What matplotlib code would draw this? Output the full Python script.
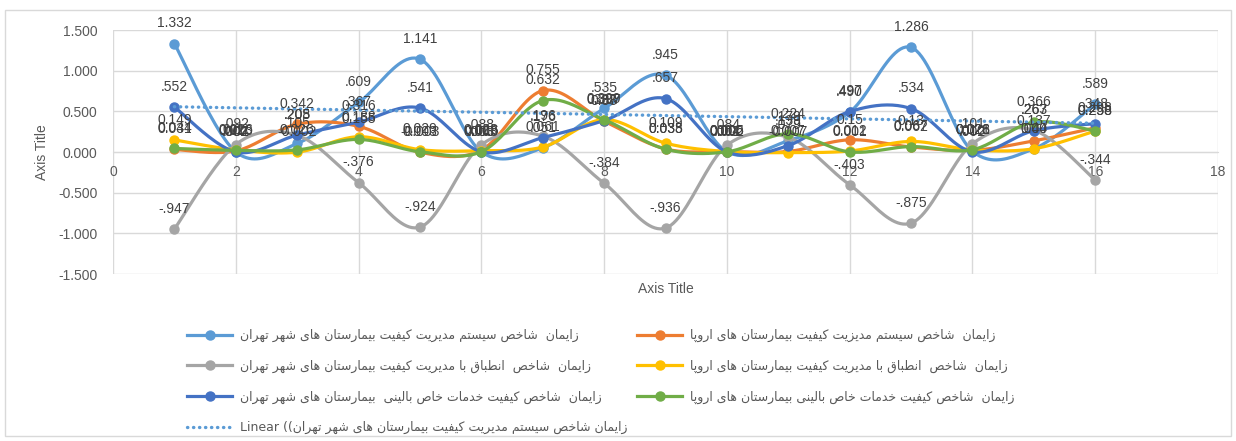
import numpy as np
import matplotlib
matplotlib.use('Agg')
import matplotlib.pyplot as plt
from matplotlib.lines import Line2D
from matplotlib.patches import Rectangle
from matplotlib.ticker import FormatStrFormatter

# Data
x_vals = list(range(1, 17))

tehran_qms = [1.332, 0.002, 0.105, 0.609, 1.141, 0.003, 0.051, 0.535,
              0.945, 0.004, 0.139, 0.490, 1.286, 0.010, 0.040, 0.589]
europe_qms = [0.031, 0.013, 0.342, 0.316, -0.003, 0.023, 0.755, 0.380,
              0.038, 0.006, 0.007, 0.150, 0.062, 0.021, 0.137, 0.298]
tehran_comp = [-0.947, 0.092, 0.205, -0.376, -0.924, 0.088, 0.196, -0.384,
               -0.936, 0.084, 0.179, -0.403, -0.875, 0.101, 0.267, -0.344]
europe_comp = [0.149, 0.026, -0.002, 0.188, 0.029, 0.016, 0.061, 0.399,
               0.109, 0.005, -0.007, 0.012, 0.130, 0.026, 0.040, 0.258]
tehran_clin = [0.552, 0.001, 0.208, 0.367, 0.541, 0.003, 0.176, 0.387,
               0.657, 0.001, 0.079, 0.497, 0.534, 0.002, 0.263, 0.348]
europe_clin = [0.044, 0.020, 0.026, 0.155, 0.003, 0.003, 0.632, 0.397,
               0.035, 0.002, 0.224, 0.001, 0.067, 0.028, 0.366, 0.258]

series_names = [
    "زایمان  شاخص سیستم مدیریت کیفیت بیمارستان های شهر تهران",
    "زایمان  شاخص سیستم مدیزیت کیفیت بیمارستان های اروپا",
    "زایمان  شاخص  انطباق با مدیریت کیفیت بیمارستان های شهر تهران",
    "زایمان  شاخص  انطباق با مدیریت کیفیت بیمارستان های اروپا",
    "زایمان  شاخص کیفیت خدمات خاص بالینی  بیمارستان های شهر تهران",
    "زایمان  شاخص کیفیت خدمات خاص بالینی بیمارستان های اروپا",
]
trend_name = "زایمان شاخص سیستم مدیریت کیفیت بیمارستان های شهر تهران"

colors = ['#5B9BD5', '#ED7D31', '#A5A5A5', '#FFC000', '#4472C4', '#70AD47']
tehran_style = [True, False, True, False, True, False]

# Arabic presentation forms: isolated, final, initial, medial
FORMS = {
    'ا': ('\uFE8D', '\uFE8E', None, None),
    'ب': ('\uFE8F', '\uFE90', '\uFE91', '\uFE92'),
    'ت': ('\uFE95', '\uFE96', '\uFE97', '\uFE98'),
    'خ': ('\uFEA5', '\uFEA6', '\uFEA7', '\uFEA8'),
    'د': ('\uFEA9', '\uFEAA', None, None),
    'ر': ('\uFEAD', '\uFEAE', None, None),
    'ز': ('\uFEAF', '\uFEB0', None, None),
    'س': ('\uFEB1', '\uFEB2', '\uFEB3', '\uFEB4'),
    'ش': ('\uFEB5', '\uFEB6', '\uFEB7', '\uFEB8'),
    'ص': ('\uFEB9', '\uFEBA', '\uFEBB', '\uFEBC'),
    'ط': ('\uFEC1', '\uFEC2', '\uFEC3', '\uFEC4'),
    'ف': ('\uFED1', '\uFED2', '\uFED3', '\uFED4'),
    'ق': ('\uFED5', '\uFED6', '\uFED7', '\uFED8'),
    'ل': ('\uFEDD', '\uFEDE', '\uFEDF', '\uFEE0'),
    'م': ('\uFEE1', '\uFEE2', '\uFEE3', '\uFEE4'),
    'ن': ('\uFEE5', '\uFEE6', '\uFEE7', '\uFEE8'),
    'ه': ('\uFEE9', '\uFEEA', '\uFEEB', '\uFEEC'),
    'و': ('\uFEED', '\uFEEE', None, None),
    'پ': ('\uFB56', '\uFB57', '\uFB58', '\uFB59'),
    'ک': ('\uFB8E', '\uFB8F', '\uFB90', '\uFB91'),
    'ی': ('\uFBFC', '\uFBFD', '\uFBFE', '\uFBFF'),
}


def rtl(text):
    # join letters and put them in visual (left-to-right) order
    out = []
    for i, c in enumerate(text):
        if c not in FORMS:
            out.append(c)
            continue
        prev = text[i - 1] if i > 0 else None
        nxt = text[i + 1] if i + 1 < len(text) else None
        join_prev = prev in FORMS and FORMS[prev][2] is not None
        join_next = nxt in FORMS and FORMS[c][2] is not None
        iso, fin, ini, med = FORMS[c]
        if join_prev and join_next:
            out.append(med)
        elif join_prev:
            out.append(fin)
        elif join_next:
            out.append(ini)
        else:
            out.append(iso)
    return ''.join(reversed(out))


def smooth(xs, ys, n=24):
    # Excel-like smoothed line (cubic bezier, catmull-rom control points)
    pts = np.column_stack([xs, ys]).astype(float)
    P = np.vstack([pts[0], pts, pts[-1]])
    t = np.linspace(0, 1, n)[:, None]
    segs = []
    for i in range(len(pts) - 1):
        p0, p1, p2, p3 = P[i], P[i + 1], P[i + 2], P[i + 3]
        c1 = p1 + (p2 - p0) / 6
        c2 = p2 - (p3 - p1) / 6
        seg = (1 - t) ** 3 * p1 + 3 * (1 - t) ** 2 * t * c1 + 3 * (1 - t) * t ** 2 * c2 + t ** 3 * p2
        segs.append(seg if i == 0 else seg[1:])
    return np.vstack(segs)


def fmt_label(v, tehran):
    if tehran:
        s = f"{v:.3f}"
        return s.replace("0.", ".", 1) if s.startswith(("0.", "-0.")) else s
    return format(v, 'g')


plt.rcParams['font.family'] = ['Liberation Sans', 'DejaVu Sans']

fig = plt.figure(figsize=(12.36, 4.41), dpi=100)
ax = fig.add_axes([113 / 1236, 1 - 274 / 441, 1105 / 1236, 244 / 441])

all_series = [tehran_qms, europe_qms, tehran_comp, europe_comp, tehran_clin, europe_clin]
handles = []
for i, ys in enumerate(all_series):
    curve = smooth(x_vals, ys)
    ax.plot(curve[:, 0], curve[:, 1], color=colors[i], lw=2.3, zorder=3 + i,
            solid_capstyle='round')
    ax.plot(x_vals, ys, 'o', color=colors[i], ms=6.5, zorder=3 + i)
    handles.append(Line2D([], [], color=colors[i], lw=2.3, marker='o', ms=6.5))
    for xv, yv in zip(x_vals, ys):
        ax.annotate(fmt_label(yv, tehran_style[i]), (xv, yv), xytext=(0, 9.5),
                    textcoords='offset points', ha='center', va='bottom',
                    fontsize=10, color='#404040', zorder=20)

# linear trend of the first series
slope, icpt = np.polyfit(x_vals, tehran_qms, 1)
tx = np.array([x_vals[0], x_vals[-1]])
ax.plot(tx, slope * tx + icpt, color='#5B9BD5', lw=2.4, linestyle=(0, (0.1, 1.7)),
        dash_capstyle='round', zorder=10)
handles.append(Line2D([], [], color='#5B9BD5', lw=2.4, linestyle=(0, (0.1, 1.7)),
                      dash_capstyle='round'))

ax.set_xlim(0, 18)
ax.set_ylim(-1.5, 1.5)
ax.set_xticks(range(0, 19, 2))
ax.set_yticks(np.arange(-1.5, 1.51, 0.5))
ax.yaxis.set_major_formatter(FormatStrFormatter('%.3f'))
ax.grid(True, color='#D9D9D9', lw=1)
ax.set_axisbelow(True)
for s in ['top', 'right', 'left']:
    ax.spines[s].set_visible(False)
ax.spines['bottom'].set_position(('data', 0))
ax.spines['bottom'].set_color('#D9D9D9')
ax.tick_params(axis='x', length=0, pad=9, labelsize=10, labelcolor='#595959')
ax.tick_params(axis='y', length=0, pad=11, labelsize=10, labelcolor='#595959')

ax.set_xlabel('Axis Title', fontsize=10, color='#595959', va='center')
ax.xaxis.set_label_coords(0.5, -0.062)
ax.set_ylabel('Axis Title', fontsize=10, color='#595959', va='center', ha='center')
ax.yaxis.set_label_coords(-0.064, 0.5)

# legend: two columns, Excel order
order = [0, 2, 4, 6, 1, 3, 5]
labels = [rtl(n) for n in series_names] + ["Linear ((" + rtl(trend_name)]
fig.legend([handles[k] for k in order], [labels[k] for k in order], ncol=2,
           loc='upper left', bbox_to_anchor=(187 / 1236, 1 - 329 / 441),
           frameon=False, prop={'family': 'DejaVu Sans', 'size': 9},
           handlelength=3.6, handletextpad=0.6, columnspacing=0.8,
           labelspacing=1.4, borderpad=0, borderaxespad=0, labelcolor='#595959')

fig.patches.append(Rectangle((5 / 1236, 5 / 441), 1226 / 1236, 426 / 441,
                             transform=fig.transFigure, fill=False,
                             ec='#D9D9D9', lw=1))

fig.savefig('out.png', dpi=100)
